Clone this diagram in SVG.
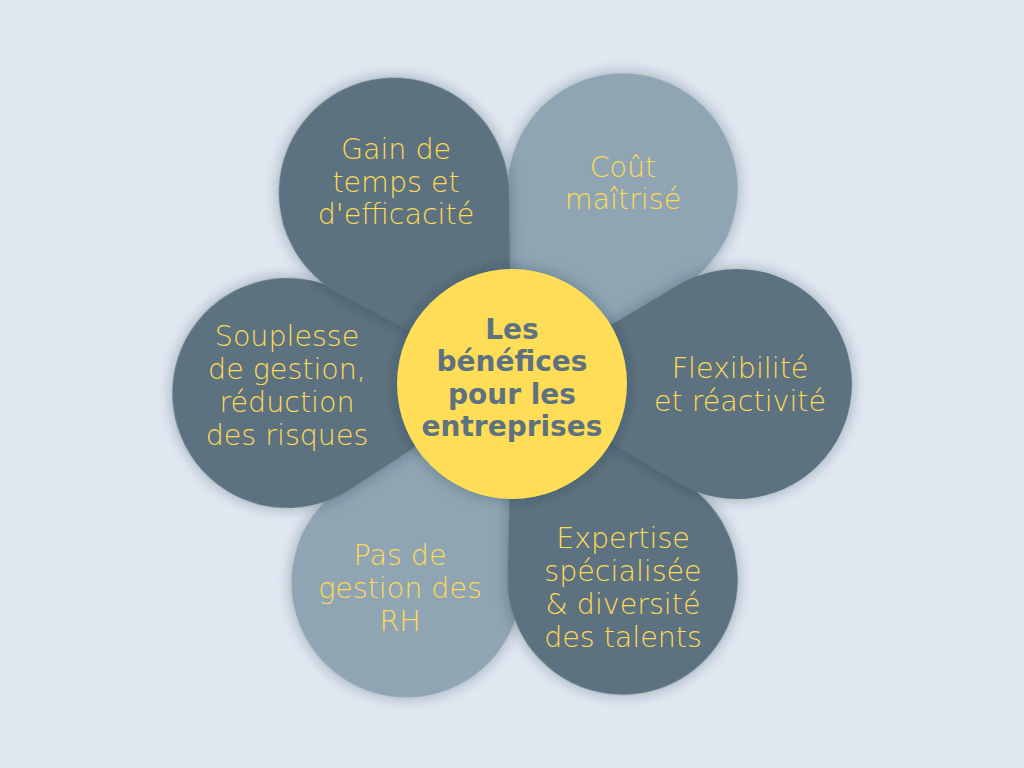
<svg xmlns="http://www.w3.org/2000/svg" width="1024" height="768" viewBox="0 0 1024 768">
<defs>
<style>
.dark{fill:#5D7280}
.light{fill:#8FA5B3}
.pt{font-family:"DejaVu Sans","Liberation Sans",sans-serif;font-size:28.5px;fill:#FFDA55;text-anchor:middle;font-weight:300}
.ct{font-family:"DejaVu Sans","Liberation Sans",sans-serif;font-size:28px;fill:#5D7280;text-anchor:middle;font-weight:bold}
</style>
<filter id="sh" x="-30%" y="-30%" width="160%" height="160%">
<feDropShadow dx="0" dy="0" stdDeviation="7" flood-color="#1f2f3a" flood-opacity="0.35"/>
</filter>
<path id="petal" d="M0,0 L166.2,-98.9 A115,115 0 1 1 166.2,98.9 Z"/>
</defs>
<rect width="1024" height="768" fill="#E0E7F0"/>
<g id="petal2"><use href="#petal" class="light" filter="url(#sh)" transform="translate(512,384) rotate(-60.5)"/></g>
<g id="petal5"><use href="#petal" class="light" filter="url(#sh)" transform="translate(512,384) rotate(118)"/></g>
<g id="petal6"><use href="#petal" class="dark" filter="url(#sh)" transform="translate(512,384) rotate(177.7)"/></g>
<g id="petal1"><use href="#petal" class="dark" filter="url(#sh)" transform="translate(512,384) rotate(-121.7)"/></g>
<g id="petal4"><use href="#petal" class="dark" filter="url(#sh)" transform="translate(512,384) rotate(60.5)"/></g>
<g id="petal3"><use href="#petal" class="dark" filter="url(#sh)" transform="translate(512,384) rotate(0)"/></g>
<g id="center"><circle cx="512" cy="384" r="115" fill="#FFDD57" filter="url(#sh)"/></g>
<g id="labels">
<text class="pt"><tspan x="396" y="159">Gain de</tspan><tspan x="396" y="191.5">temps et</tspan><tspan x="396" y="224">d'efficacité</tspan></text>
<text class="pt"><tspan x="623" y="177">Coût</tspan><tspan x="623" y="209">maîtrisé</tspan></text>
<text class="pt"><tspan x="740" y="378">Flexibilité</tspan><tspan x="740" y="411">et réactivité</tspan></text>
<text class="pt"><tspan x="287" y="346">Souplesse</tspan><tspan x="287" y="379">de gestion,</tspan><tspan x="287" y="412">réduction</tspan><tspan x="287" y="445">des risques</tspan></text>
<text class="pt"><tspan x="400" y="565">Pas de</tspan><tspan x="400" y="598">gestion des</tspan><tspan x="400" y="631">RH</tspan></text>
<text class="pt"><tspan x="623" y="548">Expertise</tspan><tspan x="623" y="581">spécialisée</tspan><tspan x="623" y="614">&amp; diversité</tspan><tspan x="623" y="647">des talents</tspan></text>
<text class="ct"><tspan x="512" y="339">Les</tspan><tspan x="512" y="371">bénéfices</tspan><tspan x="512" y="404">pour les</tspan><tspan x="512" y="436">entreprises</tspan></text>
</g>
</svg>
